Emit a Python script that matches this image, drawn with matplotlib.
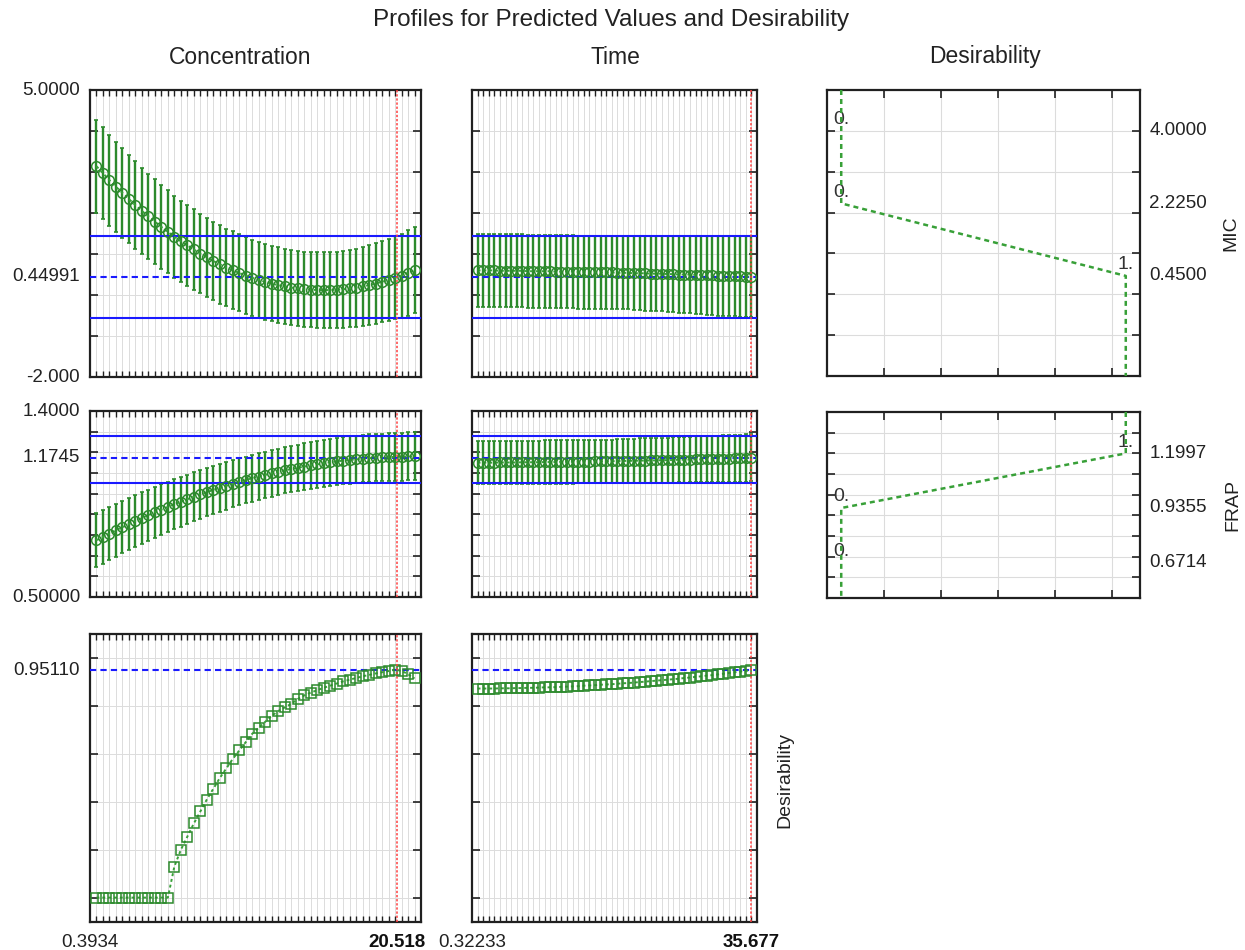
import numpy as np
import matplotlib
matplotlib.use("Agg")
import matplotlib.pyplot as plt
from matplotlib.transforms import blended_transform_factory as blend

plt.rcParams['font.family'] = ['Liberation Sans', 'DejaVu Sans']

# ---------------- data ----------------
conc_min, conc_cur, conc_step = 0.3934, 20.518, 0.4256
time_min, time_cur, time_step = 0.32233, 35.677, 0.7071

mic_pred = 0.44991
mic_limits = [-0.55, 1.44]
frap_pred = 1.1745
frap_limits = [1.054, 1.281]
des_pred = 0.95110

mic_conc_mean = [3.14, 2.97, 2.80, 2.64, 2.49, 2.34, 2.19, 2.05, 1.92, 1.79,
                 1.66, 1.54, 1.42, 1.31, 1.21, 1.11, 1.01, 0.92, 0.83, 0.75,
                 0.67, 0.60, 0.54, 0.47, 0.42, 0.37, 0.32, 0.28, 0.24, 0.21,
                 0.18, 0.16, 0.14, 0.13, 0.12, 0.12, 0.12, 0.13, 0.14, 0.16,
                 0.18, 0.21, 0.24, 0.28, 0.32, 0.37, 0.42, 0.47, 0.54, 0.60]
mic_conc_err = [1.13, 1.12, 1.11, 1.10, 1.09, 1.08, 1.07, 1.05, 1.04, 1.03,
                1.02, 1.01, 1.00, 0.99, 0.99, 0.98, 0.97, 0.97, 0.96, 0.96,
                0.95, 0.95, 0.94, 0.94, 0.93, 0.93, 0.93, 0.92, 0.92, 0.92,
                0.92, 0.92, 0.92, 0.92, 0.92, 0.92, 0.93, 0.93, 0.94, 0.94,
                0.95, 0.96, 0.97, 0.98, 0.99, 1.00, 1.01, 1.02, 1.04, 1.05]

mic_time_mean = [0.60, 0.60, 0.60, 0.60, 0.59, 0.59, 0.59, 0.59, 0.59, 0.58,
                 0.58, 0.58, 0.58, 0.58, 0.57, 0.57, 0.57, 0.57, 0.56, 0.56,
                 0.56, 0.56, 0.55, 0.55, 0.55, 0.54, 0.54, 0.54, 0.53, 0.53,
                 0.53, 0.52, 0.52, 0.52, 0.51, 0.51, 0.50, 0.50, 0.50, 0.49,
                 0.49, 0.48, 0.48, 0.47, 0.47, 0.46, 0.46, 0.46, 0.45, 0.45]
mic_time_err = [0.89] * 28 + [0.90, 0.90, 0.91, 0.91, 0.92, 0.92, 0.93, 0.93,
                              0.94, 0.94, 0.95, 0.95, 0.96, 0.96, 0.97, 0.97,
                              0.98, 0.98, 0.98, 0.99, 0.99, 0.99]

frap_conc_mean = [0.775, 0.791, 0.807, 0.823, 0.838, 0.853, 0.868, 0.882, 0.896, 0.910,
                  0.923, 0.936, 0.949, 0.961, 0.973, 0.985, 0.996, 1.007, 1.018, 1.028,
                  1.038, 1.048, 1.057, 1.066, 1.075, 1.083, 1.091, 1.098, 1.106, 1.113,
                  1.119, 1.125, 1.131, 1.137, 1.142, 1.147, 1.152, 1.156, 1.160, 1.163,
                  1.166, 1.169, 1.172, 1.174, 1.176, 1.177, 1.178, 1.179, 1.180, 1.180]
frap_conc_err = [0.130, 0.129, 0.128, 0.128, 0.127, 0.126, 0.125, 0.124, 0.124, 0.123,
                 0.122, 0.121, 0.120, 0.120, 0.119, 0.118, 0.117, 0.117, 0.116, 0.115,
                 0.115, 0.114, 0.114, 0.113, 0.113, 0.112, 0.112, 0.112, 0.112, 0.112,
                 0.112, 0.112, 0.112, 0.113, 0.113, 0.113, 0.113, 0.113, 0.114, 0.114,
                 0.114, 0.114, 0.115, 0.115, 0.115, 0.115, 0.116, 0.116, 0.116, 0.116]

frap_time_mean = [1.150, 1.150, 1.150, 1.150, 1.151, 1.151, 1.151, 1.151, 1.152, 1.152,
                  1.152, 1.152, 1.153, 1.153, 1.153, 1.154, 1.154, 1.154, 1.155, 1.155,
                  1.155, 1.156, 1.156, 1.157, 1.157, 1.158, 1.158, 1.159, 1.159, 1.160,
                  1.160, 1.161, 1.161, 1.162, 1.162, 1.163, 1.164, 1.164, 1.165, 1.166,
                  1.166, 1.167, 1.168, 1.169, 1.170, 1.170, 1.171, 1.172, 1.173, 1.1745]
frap_time_err = [0.105] * 25 + [0.105, 0.106, 0.106, 0.106, 0.107, 0.107, 0.107, 0.108,
                                 0.108, 0.109, 0.109, 0.109, 0.110, 0.110, 0.111, 0.111,
                                 0.112, 0.112, 0.112, 0.113, 0.113, 0.114, 0.114, 0.115,
                                 0.115]

des_conc = [0.0, 0.0, 0.0, 0.0, 0.0, 0.0, 0.0, 0.0, 0.0, 0.0,
            0.0, 0.0, 0.13, 0.20, 0.255, 0.31, 0.36, 0.41, 0.455, 0.50,
            0.54, 0.58, 0.615, 0.65, 0.685, 0.71, 0.735, 0.76, 0.78, 0.795,
            0.81, 0.83, 0.845, 0.857, 0.867, 0.877, 0.886, 0.895, 0.904, 0.911,
            0.918, 0.925, 0.931, 0.937, 0.942, 0.947, 0.953, 0.948, 0.934, 0.916]
des_time = [0.874, 0.874, 0.874, 0.874, 0.875, 0.875, 0.875, 0.876, 0.876, 0.877,
            0.877, 0.878, 0.879, 0.879, 0.880, 0.881, 0.882, 0.883, 0.884, 0.886,
            0.887, 0.888, 0.890, 0.891, 0.892, 0.894, 0.896, 0.897, 0.899, 0.901,
            0.903, 0.905, 0.907, 0.909, 0.911, 0.913, 0.915, 0.918, 0.920, 0.923,
            0.925, 0.928, 0.930, 0.933, 0.936, 0.939, 0.942, 0.945, 0.948, 0.951]

# desirability functions (response value vs desirability)
mic_fn_d = [0, 0, 1, 1]
mic_fn_v = [5.0, 2.225, 0.45, -2.0]
mic_fn_labels = [(0, 4.0, "0."), (0, 2.225, "0."), (1, 0.45, "1.")]
mic_right_labels = [4.0, 2.225, 0.45]
frap_fn_d = [1, 1, 0, 0]
frap_fn_v = [1.4, 1.1997, 0.9355, 0.5]
frap_fn_labels = [(1, 1.1997, "1."), (0, 0.9355, "0."), (0, 0.6714, "0.")]
frap_right_labels = [1.1997, 0.9355, 0.6714]

# ---------------- styling ----------------
W, H = 1245, 950
fig = plt.figure(figsize=(W / 100, H / 100), dpi=100)
FS = 13.5
GREEN = '#2c8a2c'
GREEN_L = '#38a038'
BLUE = '#1a1aff'
RED = '#ff4040'
GRID = '#dcdcdc'
TXT = '#222222'


def box(x0, y0, x1, y1):
    return [x0 / W, 1 - y1 / H, (x1 - x0) / W, (y1 - y0) / H]


def ftext(x, y, s, **kw):
    fig.text(x / W, 1 - y / H, s, **kw)


cols = {'L': (90, 421), 'M': (472, 757), 'R': (827, 1140)}
rows = {1: (90, 377), 2: (411, 597), 3: (634, 922)}


def frame(ax):
    for sp in ax.spines.values():
        sp.set_linewidth(1.6)
        sp.set_color('#202020')
    ax.tick_params(which='both', direction='in', top=True, bottom=True,
                   left=True, right=True, labelleft=False, labelbottom=False,
                   labeltop=False, labelright=False, color='#202020')


def profile(ax, x, mean, err, xlim, ylim, yticks, limits, pred, cur,
            marker='o', ms=7.0):
    ax.set_xlim(*xlim)
    ax.set_ylim(*ylim)
    frame(ax)
    ax.set_xticks(x)
    ax.set_yticks(yticks)
    ax.tick_params(axis='x', length=4, width=1.0)
    ax.tick_params(axis='y', length=6, width=1.2)
    ax.grid(True, color=GRID, lw=0.7, zorder=0)
    ax.set_axisbelow(True)
    if limits is not None:
        for v in limits:
            ax.axhline(v, color=BLUE, lw=1.5, zorder=4)
    ax.axhline(pred, color=BLUE, lw=1.5, ls=(0, (3, 2)), zorder=4)
    if err is not None:
        ax.errorbar(x, mean, yerr=err, fmt='none', ecolor=GREEN, elinewidth=1.7,
                    capsize=1.2, capthick=1.2, zorder=3)
    ax.plot(x, mean, color=GREEN_L, lw=1.4, ls=(0, (1.5, 1.5)), zorder=5)
    ax.plot(x, mean, ls='none', marker=marker, ms=ms, mfc='none', mec=GREEN,
            mew=1.1, zorder=6)
    ax.axvline(cur, color=RED, lw=1.1, ls=(0, (1.5, 1.2)), zorder=7)


conc_x = conc_min + conc_step * np.arange(1, len(mic_conc_mean) + 1)
time_x = time_min + time_step * np.arange(1, len(mic_time_mean) + 1)
conc_lim = (conc_min, conc_min + conc_step * (len(conc_x) + 1))
time_lim = (time_min, time_min + time_step * (len(time_x) + 1))

mic_ylim, mic_ticks = (-2.0, 5.0), np.arange(-1, 5)
frap_ylim, frap_ticks = (0.5, 1.4), np.arange(0.6, 1.35, 0.1)
des_ylim, des_ticks = (-0.102, 1.102), np.arange(0, 1.01, 0.2)

# row 1: MIC
ax = fig.add_axes(box(cols['L'][0], rows[1][0], cols['L'][1], rows[1][1]))
profile(ax, conc_x, mic_conc_mean, mic_conc_err, conc_lim, mic_ylim, mic_ticks,
        mic_limits, mic_pred, conc_cur)
tr = blend(ax.transAxes, ax.transData)
for v, s in [(5.0, "5.0000"), (mic_pred, "0.44991"), (-2.0, "-2.000")]:
    ax.text(-0.03, v, s, transform=tr, ha='right', va='center', fontsize=FS, color=TXT)

ax = fig.add_axes(box(cols['M'][0], rows[1][0], cols['M'][1], rows[1][1]))
profile(ax, time_x, mic_time_mean, mic_time_err, time_lim, mic_ylim, mic_ticks,
        mic_limits, mic_pred, time_cur)

# row 2: FRAP
ax = fig.add_axes(box(cols['L'][0], rows[2][0], cols['L'][1], rows[2][1]))
profile(ax, conc_x, frap_conc_mean, frap_conc_err, conc_lim, frap_ylim, frap_ticks,
        frap_limits, frap_pred, conc_cur)
tr = blend(ax.transAxes, ax.transData)
for v, s in [(1.4, "1.4000"), (frap_pred, "1.1745"), (0.5, "0.50000")]:
    ax.text(-0.03, v, s, transform=tr, ha='right', va='center', fontsize=FS, color=TXT)

ax = fig.add_axes(box(cols['M'][0], rows[2][0], cols['M'][1], rows[2][1]))
profile(ax, time_x, frap_time_mean, frap_time_err, time_lim, frap_ylim, frap_ticks,
        frap_limits, frap_pred, time_cur)

# row 3: desirability
ax = fig.add_axes(box(cols['L'][0], rows[3][0], cols['L'][1], rows[3][1]))
profile(ax, conc_x, des_conc, None, conc_lim, des_ylim, des_ticks,
        None, des_pred, conc_cur, marker='s', ms=6.5)
tr = blend(ax.transAxes, ax.transData)
ax.text(-0.03, des_pred, "0.95110", transform=tr, ha='right', va='center',
        fontsize=FS, color=TXT)
trx = blend(ax.transData, ax.transAxes)
ax.text(conc_min, -0.07, "0.3934", transform=trx, ha='center', va='center',
        fontsize=FS, color=TXT)
ax.text(conc_cur, -0.07, "20.518", transform=trx, ha='center', va='center',
        fontsize=FS, fontweight='bold', color='#111')

ax = fig.add_axes(box(cols['M'][0], rows[3][0], cols['M'][1], rows[3][1]))
profile(ax, time_x, des_time, None, time_lim, des_ylim, des_ticks,
        None, des_pred, time_cur, marker='s', ms=6.5)
trx = blend(ax.transData, ax.transAxes)
ax.text(time_min, -0.07, "0.32233", transform=trx, ha='center', va='center',
        fontsize=FS, color=TXT)
ax.text(time_cur, -0.07, "35.677", transform=trx, ha='center', va='center',
        fontsize=FS, fontweight='bold', color='#111')


# right column: desirability functions
def des_fn(ax, d, v, ylim, yticks, labels, right_labels):
    ax.set_xlim(-0.05, 1.05)
    ax.set_ylim(*ylim)
    frame(ax)
    ax.set_xticks([0.15, 0.35, 0.55, 0.75, 0.95])
    ax.set_yticks(yticks)
    ax.tick_params(axis='both', length=6, width=1.2)
    ax.grid(True, color=GRID, lw=0.8, zorder=0)
    ax.set_axisbelow(True)
    ax.plot(d, v, color=GREEN_L, lw=1.8, ls=(0, (2, 1.6)), zorder=4)
    for xd, yv, s in labels:
        ax.annotate(s, (xd, yv), xytext=(0, 2), textcoords='offset points',
                    ha='center', va='bottom', fontsize=FS + 0.5, color='#333')
    tr = blend(ax.transAxes, ax.transData)
    for v0 in right_labels:
        ax.text(1.03, v0, f"{v0:.4f}", transform=tr, ha='left', va='center',
                fontsize=FS, color=TXT)


ax = fig.add_axes(box(cols['R'][0], rows[1][0], cols['R'][1], rows[1][1] - 1))
des_fn(ax, mic_fn_d, mic_fn_v, mic_ylim, mic_ticks, mic_fn_labels, mic_right_labels)
ax = fig.add_axes(box(cols['R'][0], rows[2][0] + 1, cols['R'][1], rows[2][1] + 1))
des_fn(ax, frap_fn_d, frap_fn_v, frap_ylim, frap_ticks, frap_fn_labels, frap_right_labels)

# titles and side labels
ftext(611, 20, "Profiles for Predicted Values and Desirability", ha='center',
      va='center', fontsize=17.5, color=TXT)
ftext(240, 57, "Concentration", ha='center', va='center', fontsize=16.5, color=TXT)
ftext(615, 57, "Time", ha='center', va='center', fontsize=16.5, color=TXT)
ftext(985, 57, "Desirability", ha='center', va='center', fontsize=16.5, color=TXT)
ftext(1231, 233, "MIC", ha='center', va='center', rotation=90, fontsize=FS + 0.5, color=TXT)
ftext(1233, 505, "FRAP", ha='center', va='center', rotation=90, fontsize=FS + 0.5, color=TXT)
ftext(785, 780, "Desirability", ha='center', va='center', rotation=90, fontsize=FS + 0.5,
      color=TXT)

fig.savefig("out.png", dpi=100, facecolor='white')
